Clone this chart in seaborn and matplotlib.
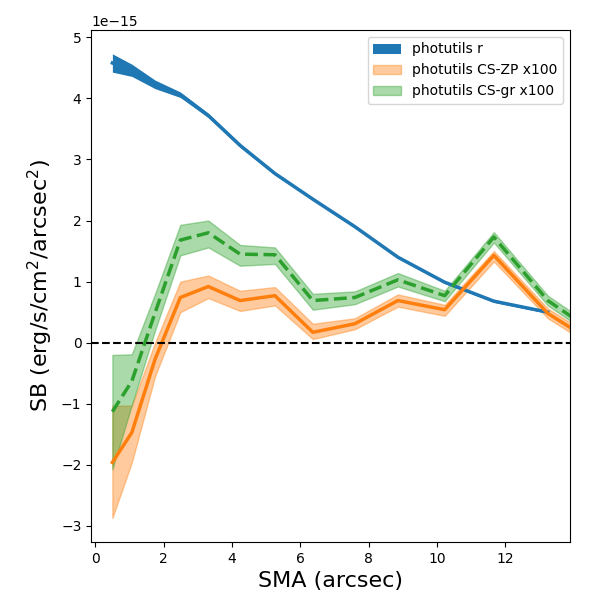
import numpy as np
import pandas as pd
import matplotlib
matplotlib.use("Agg")
import matplotlib.pyplot as plt
import seaborn as sns

# semi-major axis (arcsec)
sma = [0.5, 1.07, 1.75, 2.49, 3.31, 4.24, 5.26, 6.37, 7.6, 8.86, 10.23, 11.67, 13.25, 14.9]

# r-band profile (1e-15 erg/s/cm2/arcsec2), last radius missing
sb_r = [4.58, 4.46, 4.23, 4.06, 3.72, 3.23, 2.77, 2.35, 1.90, 1.40, 0.99, 0.68, 0.50]
err_r = [0.15, 0.10, 0.07, 0.045, 0.035, 0.03, 0.025, 0.02, 0.02, 0.02, 0.02, 0.02, 0.02]

# CS-ZP x100
sb_zp = [-1.96, -1.47, -0.27, 0.74, 0.92, 0.69, 0.77, 0.17, 0.31, 0.69, 0.54, 1.43, 0.48, -0.10]
lo_zp = [-2.87, -1.96, -0.55, 0.50, 0.73, 0.52, 0.61, 0.06, 0.22, 0.59, 0.44, 1.33, 0.40, -0.18]
hi_zp = [-1.03, -1.03, 0.00, 1.00, 1.10, 0.85, 0.91, 0.31, 0.40, 0.79, 0.62, 1.50, 0.56, -0.02]

# CS-gr x100
sb_gr = [-1.13, -0.63, 0.49, 1.68, 1.80, 1.45, 1.44, 0.69, 0.74, 1.03, 0.77, 1.73, 0.69, 0.06]
lo_gr = [-2.07, -1.02, 0.20, 1.43, 1.56, 1.26, 1.29, 0.54, 0.63, 0.92, 0.68, 1.64, 0.61, -0.02]
hi_gr = [-0.20, -0.19, 0.80, 1.93, 2.00, 1.60, 1.56, 0.80, 0.84, 1.14, 0.85, 1.81, 0.77, 0.14]

scale = 1e-15
x_r = np.array(sma[:len(sb_r)])
r = np.array(sb_r) * scale
er = np.array(err_r) * scale
x = np.array(sma)

fig, ax = plt.subplots(figsize=(6, 6), dpi=100)

ax.fill_between(x_r, r - er, r + er, color="C0", alpha=1.0, lw=0, label="photutils r")
sns.lineplot(x=x_r, y=r, ax=ax, color="C0", lw=2.5, legend=False)

ax.fill_between(x, np.array(lo_zp) * scale, np.array(hi_zp) * scale,
                color="C1", alpha=0.4, lw=1, label="photutils CS-ZP x100")
sns.lineplot(x=x, y=np.array(sb_zp) * scale, ax=ax, color="C1", lw=2.5, legend=False)

ax.fill_between(x, np.array(lo_gr) * scale, np.array(hi_gr) * scale,
                color="C2", alpha=0.4, lw=1, label="photutils CS-gr x100")
sns.lineplot(x=x, y=np.array(sb_gr) * scale, ax=ax, color="C2", lw=2.5,
             linestyle="--", legend=False)

ax.axhline(0, color="k", ls="--", lw=1.5)

ax.set_xlim(-0.12, 13.9)
ax.set_ylim(-3.26e-15, 5.12e-15)
ax.set_xlabel("SMA (arcsec)", fontsize=16)
ax.set_ylabel("SB (erg/s/cm$^2$/arcsec$^2$)", fontsize=16)
ax.legend(loc="upper right")

plt.subplots_adjust(left=0.152, right=0.95, top=0.95, bottom=0.097)
plt.savefig("out.png", dpi=100)
